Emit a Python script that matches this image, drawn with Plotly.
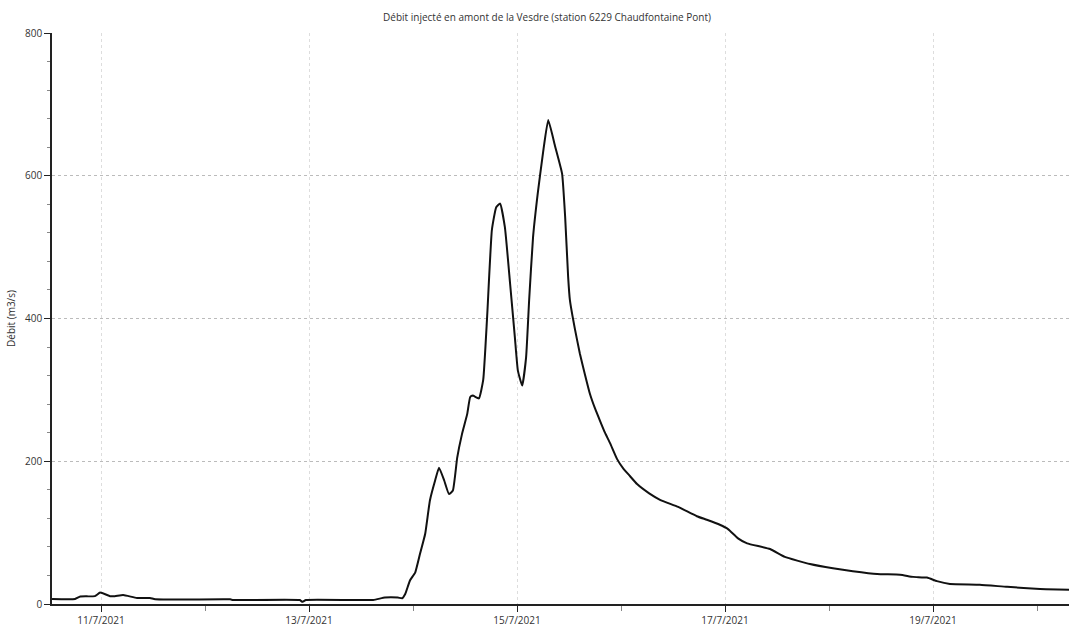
import pandas as pd
import plotly.graph_objects as go

# Hours after 2021-07-11 00:00 and discharge (m3/s)
hours = [-11.3, -6.0, -4.8, -1.4, -0.2, 2.1, 3.2, 5.1, 8.3, 11.3, 12.5, 29.8, 30.5,
         45.9, 46.4, 47.3, 62.8, 65.5, 68.5, 69.5, 70.2, 71.3, 72.5, 73.6, 74.8,
         75.9, 77.1, 78.0, 79.2, 80.3, 81.2, 82.2, 83.3, 84.5, 85.2, 85.8, 87.2,
         88.2, 89.1, 90.2, 91.2, 92.1, 93.2, 94.4, 95.5, 96.2, 97.2, 98.1, 98.8,
         99.7, 100.8, 102.0, 103.2, 104.8, 106.4, 107.1, 107.8, 108.2, 109.4,
         110.5, 111.7, 112.8, 114.0, 115.2, 116.3, 117.5, 119.1, 120.5, 122.1,
         123.7, 126.5, 129.0, 133.2, 137.5, 139.8, 142.8, 144.7, 147.0, 149.1,
         154.4, 157.8, 163.6, 168.9, 173.5, 179.1, 184.4, 187.4, 190.6, 192.9,
         195.9, 202.8, 209.1, 216.7, 223.4]
debit = [7, 7, 10.5, 11, 16, 11, 11, 12.5, 8.5, 8.5, 6.5, 6.5, 5.6,
         5.6, 3, 5.6, 5.6, 9, 9, 8, 14, 33, 44, 70, 98,
         145, 173, 191, 173, 154, 159, 205, 238, 266, 290, 292, 288,
         314, 402, 524, 556, 561, 528, 449, 374, 327, 306, 346, 426,
         514, 576, 632, 678, 641, 603, 543, 458, 426, 384,
         351, 321, 295, 274, 256, 240, 225, 203, 190, 179,
         168, 155, 146, 136, 123, 118, 111, 105, 92, 85,
         77, 66, 56, 50, 46, 42, 41, 38, 37, 32,
         28, 27, 24, 21, 20]

title_text = "Débit injecté en amont de la Vesdre (station 6229 Chaudfontaine Pont)"
y_title = "Débit (m3/s)"
y_ticks = [0, 200, 400, 600, 800]

base = pd.Timestamp("2021-07-11 00:00")
times = [base + pd.Timedelta(hours=h) for h in hours]

x_start = base + pd.Timedelta(hours=-11.31)
x_end = base + pd.Timedelta(hours=223.38)

fig = go.Figure()
fig.add_trace(go.Scatter(x=times, y=debit, mode="lines",
                         line=dict(color="#111111", width=2, shape="spline", smoothing=0.4),
                         showlegend=False))

font_family = "Open Sans, Noto Sans, sans-serif"
fig.update_layout(
    width=1069, height=629,
    margin=dict(l=52, r=0, t=33, b=25),
    paper_bgcolor="white", plot_bgcolor="white",
    title=dict(text=title_text, x=547/1069, xref="container", xanchor="center",
               y=1 - 17/629, yref="container", yanchor="middle",
               font=dict(family=font_family, size=10, color="#333333")),
    font=dict(family=font_family, size=10, color="#333333"),
)
fig.update_xaxes(
    range=[x_start, x_end], type="date",
    tickvals=[base + pd.Timedelta(days=d) for d in (0, 2, 4, 6, 8)],
    tickformat="%-d/%-m/%Y",
    showline=True, linecolor="#222222", linewidth=1.5,
    ticks="outside", ticklen=6, tickcolor="#222222", tickwidth=1,
    showgrid=True, gridcolor="#dddddd", griddash="dot", gridwidth=1,
    minor=dict(tickvals=[base + pd.Timedelta(days=d) for d in (-1, 1, 3, 5, 7, 9)],
               ticks="outside", ticklen=5, tickcolor="#888888", showgrid=False),
    zeroline=False, tickfont=dict(size=10, color="#333333"),
)
fig.update_yaxes(
    range=[0, 800], tickvals=y_ticks,
    title=dict(text=y_title, font=dict(size=10, color="#333333"), standoff=8),
    showline=True, linecolor="#222222", linewidth=1.5,
    ticks="outside", ticklen=6, tickcolor="#222222", tickwidth=1,
    showgrid=True, gridcolor="#bbbbbb", griddash="dot", gridwidth=1,
    minor=dict(dtick=40, ticks="outside", ticklen=3, tickcolor="#888888", showgrid=False),
    zeroline=False, tickfont=dict(size=10, color="#333333"),
)

fig.write_html("out.html")
